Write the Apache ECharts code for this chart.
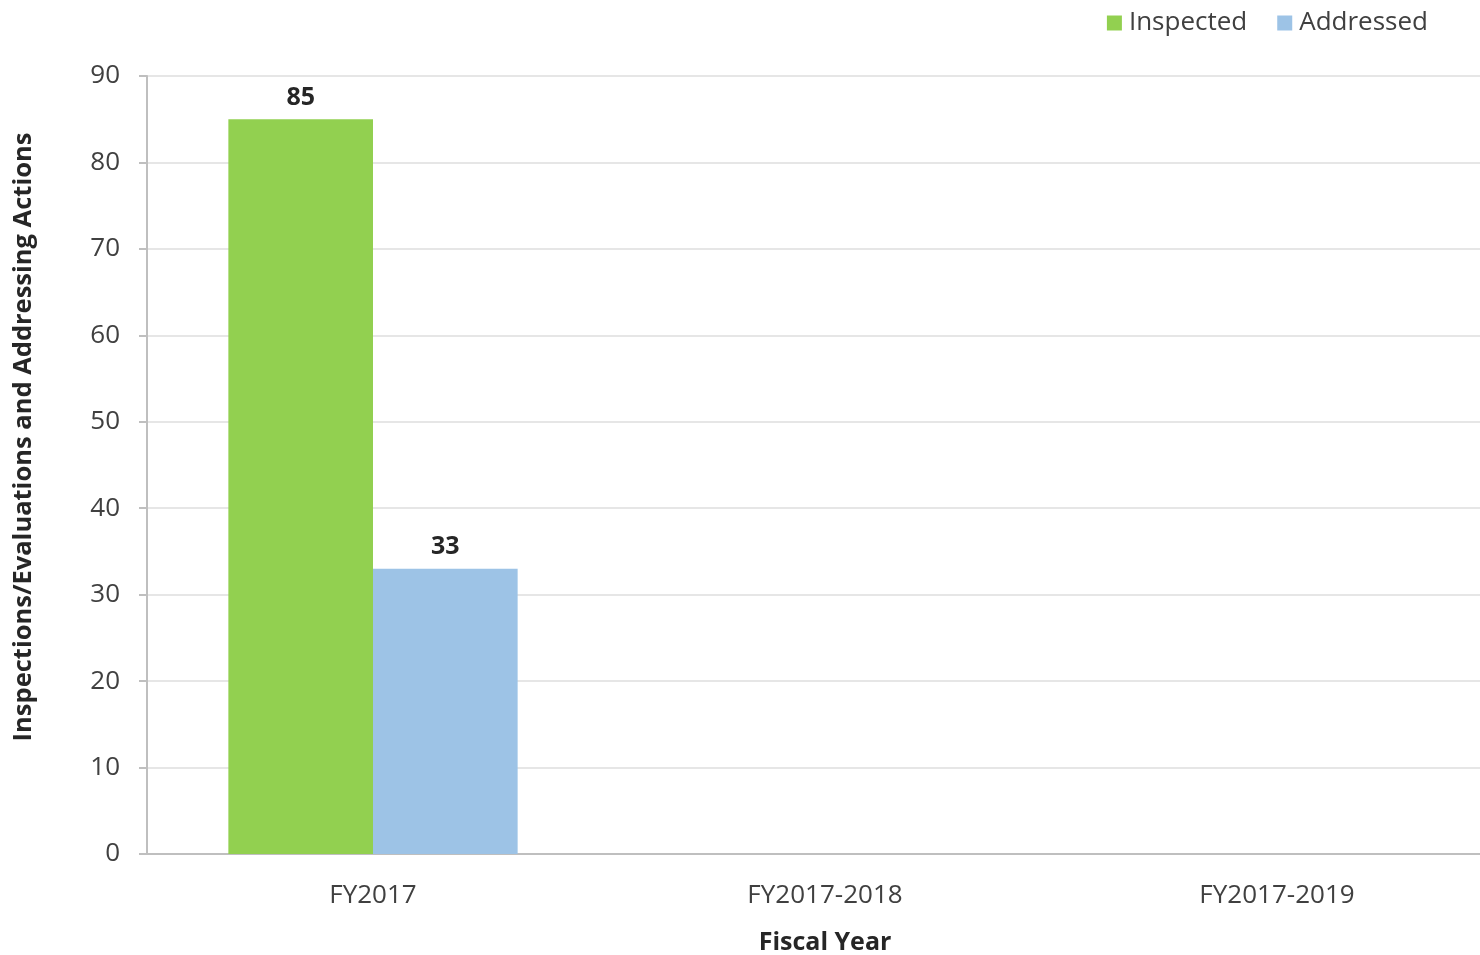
<!DOCTYPE html>
<html><head><meta charset="utf-8">
<script src="https://cdn.jsdelivr.net/npm/echarts@6/dist/echarts.min.js"></script>
<style>html,body{margin:0;padding:0;background:#fff}#c{width:1480px;height:955px}</style>
</head><body><div id="c"></div>
<script>
const categories = ['FY2017', 'FY2017-2018', 'FY2017-2019'];
const inspected = [85, null, null];
const addressed = [33, null, null];
const yTicks = { min: 0, max: 90, interval: 10 };

const font = '"Open Sans", "Noto Sans", sans-serif';
const chart = echarts.init(document.getElementById('c'));
chart.setOption({
  animation: false,
  textStyle: { fontFamily: font },
  legend: {
    right: 47, top: 5,
    itemWidth: 15, itemHeight: 15, itemGap: 30,
    icon: 'rect',
    textStyle: { fontFamily: font, fontSize: 26, color: '#404040', padding: [0,0,0,2] },
    data: ['Inspected', 'Addressed']
  },
  grid: { left: 147, right: -23, top: 76, bottom: 101, containLabel: false, outerBoundsMode: 'none' },
  xAxis: {
    type: 'category', data: categories,
    axisLine: { lineStyle: { color: '#bfbfbf', width: 2 } },
    axisTick: { show: false },
    axisLabel: { fontFamily: font, fontSize: 26, color: '#404040', margin: 29 },
    name: 'Fiscal Year', nameLocation: 'middle', nameGap: 76,
    nameTextStyle: { fontFamily: font, fontSize: 25, fontWeight: 'bold', color: '#262626' }
  },
  yAxis: {
    type: 'value', min: yTicks.min, max: yTicks.max, interval: yTicks.interval,
    axisLine: { show: true, lineStyle: { color: '#bfbfbf', width: 2 } },
    axisTick: { show: true, length: 8, lineStyle: { color: '#bfbfbf', width: 2 } },
    splitLine: { lineStyle: { color: '#e6e6e6', width: 2 } },
    axisLabel: { fontFamily: font, fontSize: 26, color: '#404040', margin: 27 },
    name: 'Inspections/Evaluations and Addressing Actions', nameLocation: 'middle', nameGap: 110,
    nameTextStyle: { fontFamily: font, fontSize: 25.5, fontWeight: 'bold', color: '#262626', padding: [0, 0, 0, 56] }
  },
  series: [
    { name: 'Inspected', type: 'bar', data: inspected, barGap: '0%', barCategoryGap: '36%',
      itemStyle: { color: '#92D050' },
      label: { show: true, position: 'top', distance: 9, fontFamily: font, fontSize: 25, fontWeight: 'bold', color: '#262626' } },
    { name: 'Addressed', type: 'bar', data: addressed, barGap: '0%', barCategoryGap: '36%',
      itemStyle: { color: '#9DC3E6' },
      label: { show: true, position: 'top', distance: 9, fontFamily: font, fontSize: 25, fontWeight: 'bold', color: '#262626' } }
  ]
});
</script></body></html>
